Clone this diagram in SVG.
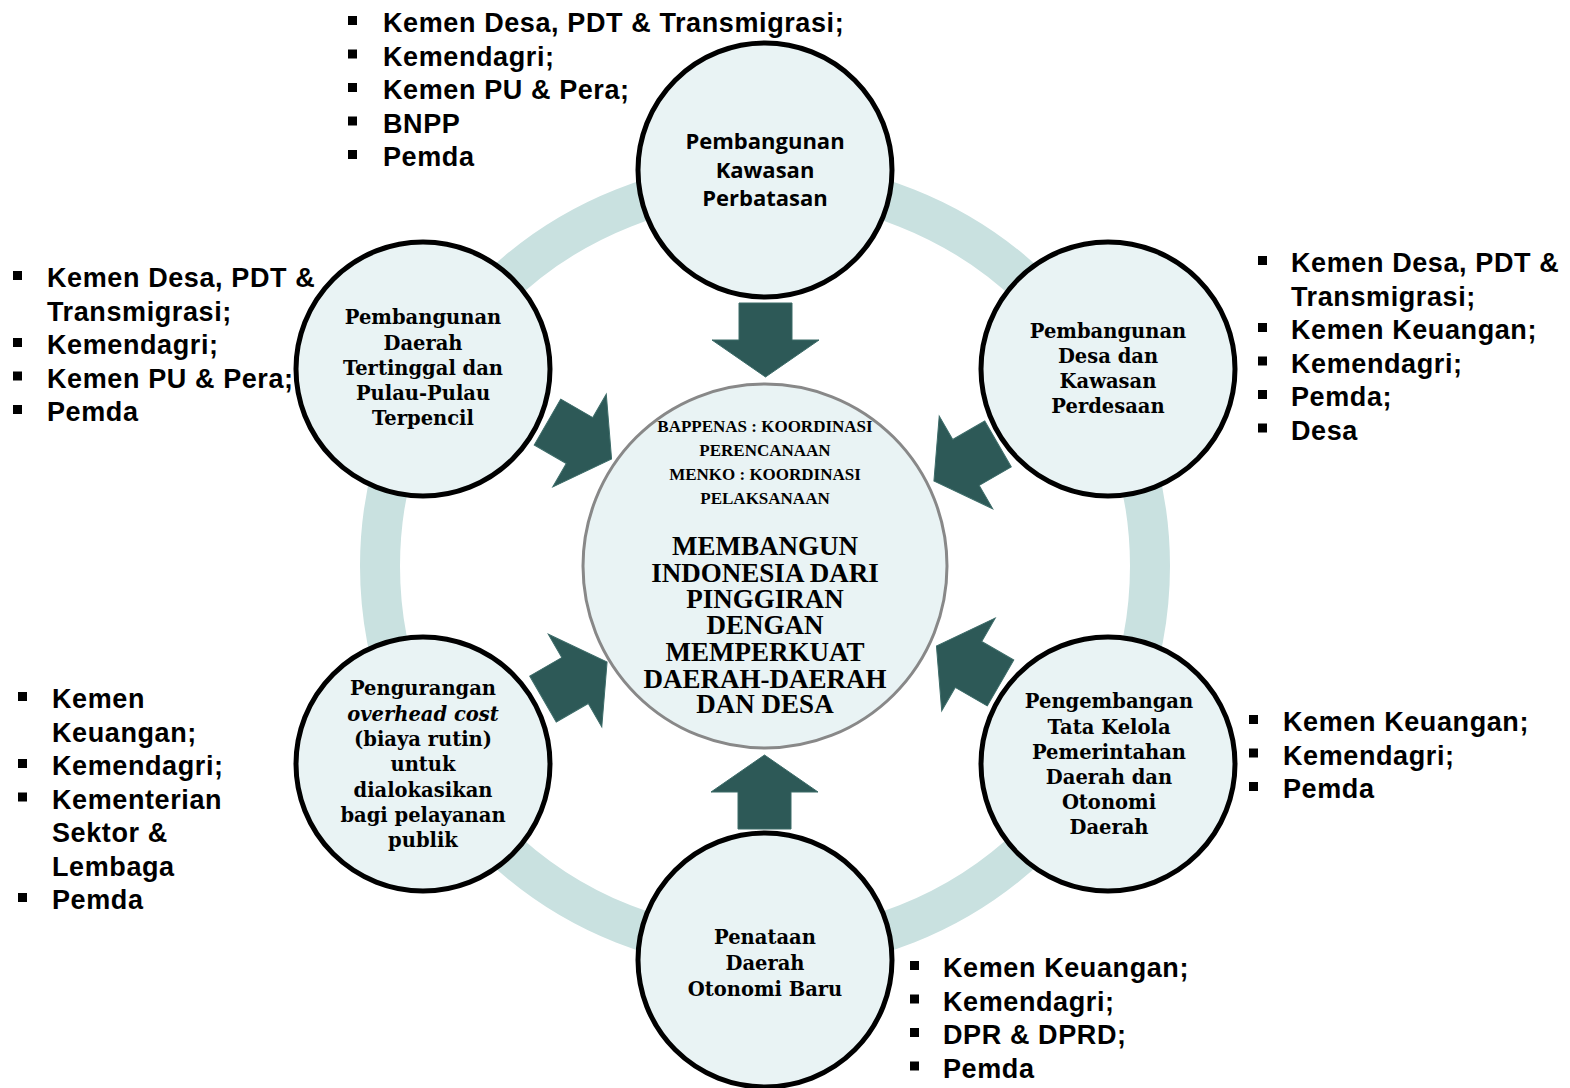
<svg xmlns="http://www.w3.org/2000/svg" width="1570" height="1088" viewBox="0 0 1570 1088">
<style>
.ring{fill:none;stroke:#c9e1e0;stroke-width:40}
.node{fill:#e9f3f4;stroke:#000;stroke-width:5}
.core{fill:#e9f3f4;stroke:#888;stroke-width:3}
.arrow{fill:#2d5957;stroke:#3d6c69;stroke-width:1}
.nt{font-family:"DejaVu Serif","Liberation Serif",serif;font-weight:bold;font-size:19.5px;text-anchor:middle;fill:#000}
.ns{font-family:"Open Sans","Liberation Sans",sans-serif;font-weight:700;font-size:22px;text-anchor:middle;fill:#000}
.cs{font-family:"Liberation Serif",serif;font-weight:bold;font-size:17px;text-anchor:middle;fill:#000}
.cb{font-family:"Liberation Serif",serif;font-weight:bold;font-size:27px;text-anchor:middle;fill:#000}
.lt{font-family:"Liberation Sans",Arial,sans-serif;font-weight:bold;font-size:27px;letter-spacing:0.6px;fill:#000}
.bul{fill:#000}
</style>
<defs>
<polygon id="arr" class="arrow" points="739,303 792,303 792,340 819,340 765.5,377 712,340 739,340"/>
</defs>
<circle class="ring" cx="765" cy="566" r="385"/>
<g id="center">
<circle class="core" cx="765" cy="566" r="182"/>
<text class="cs" x="765" y="432">BAPPENAS : KOORDINASI</text>
<text class="cs" x="765" y="456">PERENCANAAN</text>
<text class="cs" x="765" y="480">MENKO : KOORDINASI</text>
<text class="cs" x="765" y="504">PELAKSANAAN</text>
<text class="cb" x="765" y="555">MEMBANGUN</text>
<text class="cb" x="765" y="582">INDONESIA DARI</text>
<text class="cb" x="765" y="608">PINGGIRAN</text>
<text class="cb" x="765" y="634">DENGAN</text>
<text class="cb" x="765" y="661">MEMPERKUAT</text>
<text class="cb" x="765" y="688">DAERAH-DAERAH</text>
<text class="cb" x="765" y="713">DAN DESA</text>
</g>
<g id="connectors">
<use href="#arr"/>
<use href="#arr" transform="translate(5,9) rotate(60 765 566)"/>
<use href="#arr" transform="translate(10,-12) rotate(-60 765 566)"/>
<use href="#arr" transform="translate(6,2) rotate(-120 765 566)"/>
<use href="#arr" transform="translate(8,-15) rotate(120 765 566)"/>
<use href="#arr" transform="rotate(180 765 566)"/>
</g>
<g id="node-top">
<circle class="node" cx="765" cy="170" r="127"/>
<text class="ns" x="765" y="149">Pembangunan</text>
<text class="ns" x="765" y="178">Kawasan</text>
<text class="ns" x="765" y="206">Perbatasan</text>
</g>
<g id="node-upper-left">
<circle class="node" cx="423" cy="369" r="127"/>
<text class="nt" x="423" y="324">Pembangunan</text>
<text class="nt" x="423" y="349.5">Daerah</text>
<text class="nt" x="423" y="375">Tertinggal dan</text>
<text class="nt" x="423" y="400">Pulau-Pulau</text>
<text class="nt" x="423" y="425">Terpencil</text>
</g>
<g id="node-upper-right">
<circle class="node" cx="1108" cy="369" r="127"/>
<text class="nt" x="1108" y="337.5">Pembangunan</text>
<text class="nt" x="1108" y="363">Desa dan</text>
<text class="nt" x="1108" y="388">Kawasan</text>
<text class="nt" x="1108" y="413">Perdesaan</text>
</g>
<g id="node-lower-left">
<circle class="node" cx="423" cy="764" r="127"/>
<text class="nt" x="423" y="695">Pengurangan</text>
<text class="nt" x="423" y="720.5" font-style="italic">overhead cost</text>
<text class="nt" x="423" y="746">(biaya rutin)</text>
<text class="nt" x="423" y="771">untuk</text>
<text class="nt" x="423" y="796.5">dialokasikan</text>
<text class="nt" x="423" y="821.5">bagi pelayanan</text>
<text class="nt" x="423" y="846.5">publik</text>
</g>
<g id="node-lower-right">
<circle class="node" cx="1108" cy="764" r="127"/>
<text class="nt" x="1109" y="708">Pengembangan</text>
<text class="nt" x="1109" y="733.5">Tata Kelola</text>
<text class="nt" x="1109" y="759">Pemerintahan</text>
<text class="nt" x="1109" y="784">Daerah dan</text>
<text class="nt" x="1109" y="809">Otonomi</text>
<text class="nt" x="1109" y="834">Daerah</text>
</g>
<g id="node-bottom">
<circle class="node" cx="765" cy="960" r="127"/>
<text class="nt" x="765" y="944">Penataan</text>
<text class="nt" x="765" y="970">Daerah</text>
<text class="nt" x="765" y="995.5">Otonomi Baru</text>
</g>
<g id="list-top">
<rect class="bul" x="348" y="16" width="9" height="9"/>
<rect class="bul" x="348" y="49.5" width="9" height="9"/>
<rect class="bul" x="348" y="83" width="9" height="9"/>
<rect class="bul" x="348" y="116.5" width="9" height="9"/>
<rect class="bul" x="348" y="150" width="9" height="9"/>
<text class="lt" x="383" y="32">Kemen Desa, PDT &amp; Transmigrasi;</text>
<text class="lt" x="383" y="65.5">Kemendagri;</text>
<text class="lt" x="383" y="99">Kemen PU &amp; Pera;</text>
<text class="lt" x="383" y="132.5">BNPP</text>
<text class="lt" x="383" y="166">Pemda</text>
</g>
<g id="list-upper-left">
<rect class="bul" x="13" y="271" width="9" height="9"/>
<rect class="bul" x="13" y="338" width="9" height="9"/>
<rect class="bul" x="13" y="371.5" width="9" height="9"/>
<rect class="bul" x="13" y="405" width="9" height="9"/>
<text class="lt" x="47" y="287">Kemen Desa, PDT &amp;</text>
<text class="lt" x="47" y="320.5">Transmigrasi;</text>
<text class="lt" x="47" y="354">Kemendagri;</text>
<text class="lt" x="47" y="387.5">Kemen PU &amp; Pera;</text>
<text class="lt" x="47" y="421">Pemda</text>
</g>
<g id="list-upper-right">
<rect class="bul" x="1258" y="256" width="9" height="9"/>
<rect class="bul" x="1258" y="323" width="9" height="9"/>
<rect class="bul" x="1258" y="356.5" width="9" height="9"/>
<rect class="bul" x="1258" y="390" width="9" height="9"/>
<rect class="bul" x="1258" y="423.5" width="9" height="9"/>
<text class="lt" x="1291" y="272">Kemen Desa, PDT &amp;</text>
<text class="lt" x="1291" y="305.5">Transmigrasi;</text>
<text class="lt" x="1291" y="339">Kemen Keuangan;</text>
<text class="lt" x="1291" y="372.5">Kemendagri;</text>
<text class="lt" x="1291" y="406">Pemda;</text>
<text class="lt" x="1291" y="439.5">Desa</text>
</g>
<g id="list-lower-left">
<rect class="bul" x="18" y="692" width="9" height="9"/>
<rect class="bul" x="18" y="759" width="9" height="9"/>
<rect class="bul" x="18" y="792.5" width="9" height="9"/>
<rect class="bul" x="18" y="893" width="9" height="9"/>
<text class="lt" x="52" y="708">Kemen</text>
<text class="lt" x="52" y="741.5">Keuangan;</text>
<text class="lt" x="52" y="775">Kemendagri;</text>
<text class="lt" x="52" y="808.5">Kementerian</text>
<text class="lt" x="52" y="842">Sektor &amp;</text>
<text class="lt" x="52" y="875.5">Lembaga</text>
<text class="lt" x="52" y="909">Pemda</text>
</g>
<g id="list-lower-right">
<rect class="bul" x="1249" y="715" width="9" height="9"/>
<rect class="bul" x="1249" y="748.5" width="9" height="9"/>
<rect class="bul" x="1249" y="782" width="9" height="9"/>
<text class="lt" x="1283" y="731">Kemen Keuangan;</text>
<text class="lt" x="1283" y="764.5">Kemendagri;</text>
<text class="lt" x="1283" y="798">Pemda</text>
</g>
<g id="list-bottom">
<rect class="bul" x="910" y="961" width="9" height="9"/>
<rect class="bul" x="910" y="994.5" width="9" height="9"/>
<rect class="bul" x="910" y="1028" width="9" height="9"/>
<rect class="bul" x="910" y="1061.5" width="9" height="9"/>
<text class="lt" x="943" y="977">Kemen Keuangan;</text>
<text class="lt" x="943" y="1010.5">Kemendagri;</text>
<text class="lt" x="943" y="1044">DPR &amp; DPRD;</text>
<text class="lt" x="943" y="1077.5">Pemda</text>
</g>
</svg>
